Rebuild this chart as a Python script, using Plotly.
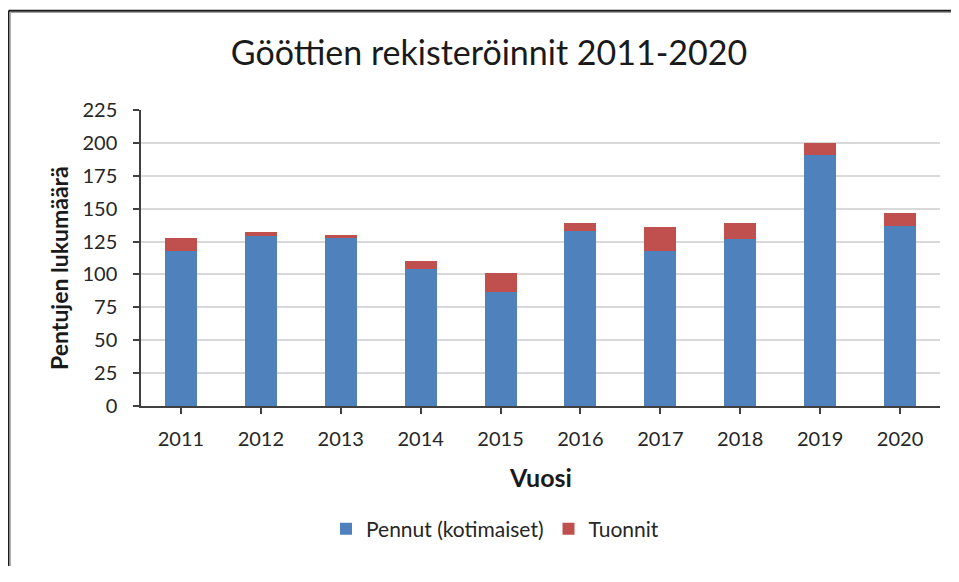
import plotly.graph_objects as go

years = ["2011", "2012", "2013", "2014", "2015", "2016", "2017", "2018", "2019", "2020"]
pennut = [118, 129, 128, 104, 87, 133, 118, 127, 191, 137]
tuonnit = [10, 3, 2, 6, 14, 6, 18, 12, 9, 10]
y_ticks = [0, 25, 50, 75, 100, 125, 150, 175, 200, 225]
grid_vals = [25, 50, 75, 100, 125, 150, 175, 200]

# page has an 8px body margin; figure coordinates = page coordinates - 8
OFF = 8
W, H = 947, 560
L, T = 133, 101.5
R = W - (940 - OFF)
B = H - (406.5 - OFF)
pw, ph = W - L - R, H - T - B

def px(x):
    return (x - OFF - L) / pw

def py(y):
    return (H - B - (y - OFF)) / ph

FONT = "Lato"
TXT = "#262626"

fig = go.Figure()
fig.add_trace(go.Bar(x=years, y=pennut, name="Pennut (kotimaiset)",
                     marker=dict(color="#4f81bd", line=dict(width=0))))
fig.add_trace(go.Bar(x=years, y=tuonnit, name="Tuonnit",
                     marker=dict(color="#c0504d", line=dict(width=0))))

fig.update_layout(
    width=W, height=H, autosize=False,
    barmode="stack", bargap=0.6,
    margin=dict(l=L, r=R, t=T, b=B),
    paper_bgcolor="white", plot_bgcolor="white",
    font=dict(family=FONT, color=TXT, size=20),
    title=dict(text="Gööttien rekisteröinnit 2011-2020", x=(489 - OFF) / W, xref="container",
               xanchor="center", y=1 - (53 - OFF) / H, yref="container", yanchor="middle",
               font=dict(family=FONT, size=34, color="#1a1a1a")),
    xaxis=dict(type="category", showline=True, linecolor="#404040", linewidth=1.5,
               ticks="outside", ticklen=6, tickcolor="#404040", tickwidth=1.5,
               tickfont=dict(size=20, color=TXT), showgrid=False, ticklabelstandoff=8),
    yaxis=dict(range=[0, 225], tickvals=y_ticks, showline=True, linecolor="#404040",
               linewidth=1.5, ticks="outside", ticklen=6, tickcolor="#404040",
               tickwidth=1.5, showgrid=False,
               minor=dict(tickmode="array", tickvals=grid_vals, showgrid=True,
                          gridcolor="#d9d9d9", gridwidth=1.5, ticks=""),
               tickfont=dict(size=20, color=TXT), zeroline=False, ticklabelstandoff=12),
    legend=dict(orientation="h", x=px(495), xanchor="center", y=py(530), yanchor="middle",
                font=dict(size=21, color=TXT), traceorder="normal", itemwidth=30),
    showlegend=True,
)

fig.add_annotation(text="<b>Pentujen lukumäärä</b>", textangle=-90, x=px(59), y=py(268),
                   xref="paper", yref="paper", xanchor="center", yanchor="middle",
                   showarrow=False, font=dict(size=23, color="#1a1a1a"))
fig.add_annotation(text="<b>Vuosi</b>", x=px(540), y=py(478), xref="paper", yref="paper",
                   xanchor="center", yanchor="middle",
                   showarrow=False, font=dict(size=25, color="#1a1a1a"))

# outer frame (top and left edges), kept inside the figure so the page does not scroll
RIGHT_EDGE = W + OFF - 1
BOTTOM_EDGE = H + OFF - 1
for (x0, y0, x1, y1, c, w) in [
    (8.5, 9.8, RIGHT_EDGE, 9.8, "#1a1a1a", 2),
    (8.5, 9.8, 8.5, BOTTOM_EDGE, "#1a1a1a", 2),
    (10.3, 11.6, RIGHT_EDGE, 11.6, "#9a9a9a", 1),
    (10.3, 11.6, 10.3, BOTTOM_EDGE, "#9a9a9a", 1),
]:
    fig.add_shape(type="line", xref="paper", yref="paper",
                  x0=px(x0), x1=px(x1), y0=py(y0), y1=py(y1),
                  line=dict(color=c, width=w), layer="above")

fig.write_html("out.html")
